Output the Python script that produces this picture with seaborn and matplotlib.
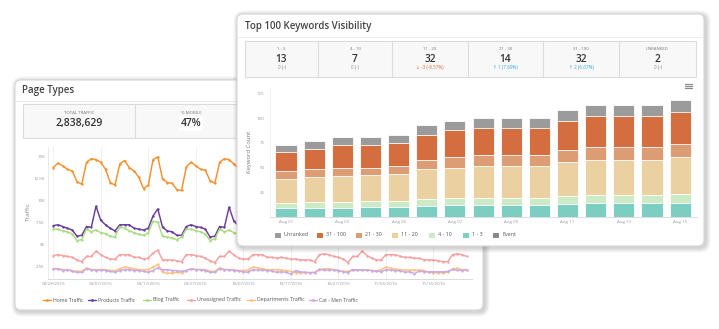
import numpy as np
import pandas as pd
import matplotlib
matplotlib.use("Agg")
import matplotlib.pyplot as plt
import seaborn as sns
from matplotlib.patches import FancyBboxPatch, Rectangle
from matplotlib.lines import Line2D
from matplotlib.transforms import IdentityTransform

# ---------------- data ----------------
date_ticks = ["08/28/2016", "09/07/2016", "09/17/2016", "09/27/2016", "10/07/2016",
              "10/17/2016", "10/27/2016", "11/06/2016", "11/16/2016"]
series_names = ["Home Traffic", "Products Traffic", "Blog Traffic", "Unassigned Traffic",
                "Departments Traffic", "Cat - Men Traffic"]
home = [13.7, 14.2, 13.9, 13.5, 13.3, 12.1, 11.8, 14.3, 14.7, 14.6, 14.3, 13.5, 12.0, 11.7,
        14.1, 14.5, 13.7, 13.3, 12.6, 11.3, 11.7, 14.6, 14.9, 12.4, 12.0, 11.9, 11.2, 11.1,
        13.8, 14.3, 13.9, 13.5, 13.4, 12.2, 11.9, 14.3, 14.7, 14.6, 14.1, 13.6, 12.9]
products = [7.1, 7.2, 7.0, 6.8, 6.6, 5.9, 6.0, 7.0, 6.9, 9.3, 7.7, 7.2, 6.8, 6.5,
            7.2, 7.2, 7.2, 6.8, 6.7, 6.6, 6.8, 8.2, 9.0, 6.9, 6.5, 6.4, 6.0, 6.0,
            7.0, 7.2, 7.0, 6.9, 6.7, 5.8, 5.9, 7.0, 6.9, 9.2, 7.6, 7.1, 6.8]
blog = [6.7, 6.7, 6.5, 6.4, 6.15, 5.4, 5.5, 6.7, 6.4, 6.6, 6.3, 6.2, 5.9, 5.8,
        7.0, 6.8, 6.5, 6.3, 6.1, 6.0, 6.3, 7.6, 7.5, 5.9, 5.8, 5.7, 5.5, 5.8,
        6.7, 6.7, 6.5, 6.4, 6.15, 5.4, 5.6, 6.7, 6.4, 6.6, 6.3, 6.2, 6.0]
unassigned = [3.7, 3.8, 3.7, 3.6, 3.5, 3.2, 3.0, 3.6, 3.6, 4.2, 3.8, 3.5, 3.3, 3.3, 3.8, 3.8,
              3.8, 3.5, 3.5, 3.3, 3.4, 4.0, 4.3, 3.2, 3.2, 3.2, 3.1, 3.0, 3.8, 3.8, 3.7, 3.6,
              3.4, 3.1, 2.9, 3.6, 3.6, 4.2, 3.8,
              3.4, 3.3, 3.3, 3.8, 3.8, 3.8, 3.5, 3.5, 3.4, 3.5, 3.4, 3.3, 3.3, 3.2, 3.2, 3.2,
              3.0, 3.8, 3.9, 3.8, 3.6, 3.5, 3.3, 2.9, 3.6, 3.6, 4.2, 3.7, 3.4, 3.2, 3.2, 3.8,
              3.8, 3.8, 3.6, 3.5, 3.5, 3.4, 3.4, 3.2, 3.2, 3.2, 3.1, 3.0, 3.0, 3.8, 3.9, 3.8, 3.6]
departments = [2.2, 2.2, 2.1, 2.1, 2.0, 1.9, 1.9, 2.3, 2.1, 2.1, 2.1, 2.1, 2.0, 2.0, 2.2, 2.4,
               2.3, 2.2, 2.1, 2.1, 2.1, 2.4, 2.7, 1.8, 1.7, 1.7, 1.8, 1.7, 2.0, 2.2, 2.1, 2.1,
               2.1, 1.9, 1.9, 2.3, 2.1, 2.1, 2.1,
               2.0, 2.0, 2.05, 2.4, 2.3, 2.2, 2.1, 2.1, 2.1, 2.05, 2.0, 1.9, 1.75, 1.75, 1.75,
               1.75, 1.8, 2.1, 2.2, 2.2, 2.1, 2.0, 1.9, 1.9, 2.05, 2.05, 2.1, 2.05, 2.0, 1.95,
               2.1, 2.4, 2.25, 2.15, 2.1, 2.05, 2.05, 2.05, 2.05, 2.0, 1.8, 1.75, 1.75, 1.75,
               1.8, 2.2, 2.25, 2.1, 2.1]
cat_men = [2.2, 2.2, 2.0, 2.1, 1.9, 1.8, 1.8, 2.2, 2.1, 2.0, 2.1, 2.0, 1.9, 1.8, 2.0, 2.1,
           2.1, 2.0, 2.0, 1.9, 1.8, 2.0, 2.3, 2.1, 2.1, 2.0, 2.0, 1.9, 2.0, 2.2, 2.1, 2.1,
           2.0, 1.8, 1.8, 2.2, 2.1, 2.1, 2.0,
           1.95, 1.85, 1.8, 2.1, 2.05, 2.05, 2.0, 1.95, 1.8, 1.85, 1.8, 1.6, 2.0, 1.85, 1.8,
           1.77, 1.77, 2.12, 2.05, 2.05, 2.1, 2.0, 1.85, 1.77, 2.1, 2.05, 2.05, 2.05, 2.0, 1.95,
           1.85, 2.1, 2.05, 2.0, 1.97, 1.8, 1.85, 1.65, 1.95, 1.85, 1.85, 1.85, 1.85, 1.85,
           1.9, 2.12, 2.05, 2.0, 2.1]
line_colors = ["#f7902c", "#6a3d9a", "#a8dc80", "#f6a0a0", "#fdc27e", "#c9a9e6"]

bar_dates = ["Aug 01", "Aug 02", "Aug 03", "Aug 04", "Aug 05", "Aug 06", "Aug 07", "Aug 08",
             "Aug 09", "Aug 10", "Aug 11", "Aug 12", "Aug 13", "Aug 14", "Aug 15"]
r1_3 = [9, 9, 9, 10, 10, 11, 12, 12, 12, 12, 13, 14, 14, 14, 14]
r4_10 = [5, 6, 6, 6, 6, 7, 7, 7, 7, 7, 8, 8, 8, 8, 9]
r11_20 = [24, 25, 26, 26, 27, 30, 31, 33, 33, 33, 35, 36, 36, 36, 38]
r21_30 = [8, 8, 9, 8, 9, 10, 11, 11, 11, 11, 12, 13, 13, 13, 13]
r31_100 = [20, 21, 23, 23, 23, 25, 27, 27, 27, 27, 29, 31, 31, 31, 32]
unranked = [7, 8, 8, 8, 8, 10, 9, 10, 10, 10, 11, 11, 11, 11, 12]
bar_legend = ["Unranked", "31 - 100", "21 - 30", "11 - 20", "4 - 10", "1 - 3", "Event"]
bar_colors = ["#9b9b9b", "#d56e3f", "#dd9d74", "#ebd1a2", "#cdeac6", "#7ccdc2", "#8a8a8a"]

kpi_labels = ["1 - 3", "4 - 10", "11 - 20", "21 - 30", "31 - 100", "UNRANKED"]
kpi_values = ["13", "7", "32", "14", "32", "2"]
kpi_changes = ["0 (-)", "0 (-)", "\u2193 -3 (-8.57%)", "\u2191 1 (7.69%)", "\u2191 2 (6.67%)", "0 (-)"]
kpi_change_colors = ["#888888", "#888888", "#e0673a", "#3aa7d8", "#3aa7d8", "#888888"]

# ---------------- figure ----------------
sns.set_theme(style="white")
plt.rcParams["font.family"] = ["Open Sans", "DejaVu Sans"]

W, H = 719, 329
fig = plt.figure(figsize=(W / 100, H / 100), dpi=100)
fig.patch.set_facecolor("white")


def T(x, y, s, size, color="#333333", ha="center", va="center", weight="normal", z=3, **kw):
    fig.text(x / W, 1 - y / H, s, fontsize=size, color=color, ha=ha, va=va,
             fontweight=weight, zorder=z, **kw)


def hline(x0, x1, y, color, lw, z):
    fig.add_artist(Line2D([x0 / W, x1 / W], [1 - y / H, 1 - y / H], color=color, lw=lw,
                          transform=fig.transFigure, zorder=z))


def vline(x, y0, y1, color, lw, z):
    fig.add_artist(Line2D([x / W, x / W], [1 - y0 / H, 1 - y1 / H], color=color, lw=lw,
                          transform=fig.transFigure, zorder=z))


def card(x0, y0, x1, y1, z):
    for off in [5, 4, 3, 2, 1]:
        sh = FancyBboxPatch((x0 - off + 1.5, H - y1 - off - 1.5), x1 - x0 + 2 * off,
                            y1 - y0 + 2 * off,
                            boxstyle="round,pad=0,rounding_size=%f" % (6 + off),
                            fc="black", ec="none", alpha=0.035,
                            transform=IdentityTransform(), zorder=z - 0.5)
        fig.add_artist(sh)
    p = FancyBboxPatch((x0, H - y1), x1 - x0, y1 - y0,
                       boxstyle="round,pad=0,rounding_size=6",
                       fc="white", ec="#d6d6d6", lw=0.8,
                       transform=IdentityTransform(), zorder=z)
    fig.add_artist(p)


def kpi_box(x0, y0, x1, y1, dividers, z):
    r = Rectangle((x0 / W, 1 - y1 / H), (x1 - x0) / W, (y1 - y0) / H,
                  transform=fig.transFigure, fc="#f8f8f8", ec="#dcdcdc", lw=0.8, zorder=z)
    fig.add_artist(r)
    for d in dividers:
        vline(d, y0, y1, "#dcdcdc", 0.8, z + 0.1)


# ---------- back card : Page Types ----------
card(15, 80, 483, 310, 1)
T(22, 90, "Page Types", 7, "#444444", ha="left", weight="semibold", z=1.5)
hline(16, 482, 101, "#ececec", 0.7, 1.2)
kpi_box(23, 104, 475, 138, [135, 248, 361], 1.2)
T(79, 113, "TOTAL TRAFFIC", 3.2, "#777777", z=1.5)
T(79, 123.5, "2,838,629", 7.5, "#333333", weight="semibold", z=1.5)
T(191, 113, "% MOBILE", 3.2, "#777777", z=1.5)
T(191, 123.5, "47%", 7.5, "#333333", weight="semibold", z=1.5,
  bbox=dict(fc="white", ec="none", pad=1.2))

ax1 = fig.add_axes([48 / W, 1 - 279.3 / H, (472 - 48) / W, (279.3 - 147.3) / H])
ax1.set_zorder(1.4)
ax1.set_facecolor("none")
all_series = [home, products, blog, unassigned, departments, cat_men]
for name, vals, c in zip(series_names, all_series, line_colors):
    days = np.arange(len(vals))
    sns.lineplot(x=days, y=vals, color=c, marker="o", markersize=1.7, markeredgewidth=0,
                 linewidth=1.05, ax=ax1, legend=False, errorbar=None)
ax1.set_xlim(-1.1, 88.1)
ax1.set_ylim(1.0, 16.0)
ax1.set_xticks(np.arange(0, 90, 10))
ax1.set_xticklabels(date_ticks)
ax1.set_yticks([2.5, 5, 7.5, 10, 12.5, 15])
ax1.set_yticklabels(["2.5K", "5K", "7.5K", "10K", "12.5K", "15K"])
ax1.tick_params(axis="both", length=0, labelsize=3.2, labelcolor="#9a9a9a", pad=2.2)
ax1.grid(axis="x", color="#eeeeee", lw=0.6)
ax1.set_xlabel("")
ax1.set_ylabel("")
for s in ["top", "right"]:
    ax1.spines[s].set_visible(False)
ax1.spines["left"].set_color("#e6e6e6")
ax1.spines["left"].set_linewidth(0.6)
ax1.spines["bottom"].set_color("#d4d4d4")
ax1.spines["bottom"].set_linewidth(0.6)
T(28, 212, "Traffic", 4.6, "#888888", rotation=90, z=1.5)

leg_x = [43, 88, 143, 187, 247, 309]
for name, c, lx in zip(series_names, line_colors, leg_x):
    fig.add_artist(Line2D([lx / W, (lx + 8) / W], [1 - 300 / H, 1 - 300 / H], color=c, lw=1.0,
                          transform=fig.transFigure, zorder=1.5))
    fig.add_artist(Line2D([(lx + 4) / W], [1 - 300 / H], color=c, marker="o", markersize=2,
                          markeredgewidth=0, transform=fig.transFigure, zorder=1.5))
    T(lx + 10, 300, name, 3.7, "#555555", ha="left", z=1.5)

# ---------- front card : Top 100 Keywords Visibility ----------
card(237, 14, 704, 246, 10)
T(245, 26, "Top 100 Keywords Visibility", 7, "#444444", ha="left", weight="semibold", z=11)
hline(238, 703, 37, "#ececec", 0.7, 10.2)
divs = [318, 392, 468, 543, 619]
kpi_box(245, 41, 696, 77, divs, 10.2)
edges = [245] + divs + [696]
for i in range(6):
    cx = (edges[i] + edges[i + 1]) / 2
    T(cx, 49, kpi_labels[i], 3.1, "#777777", z=11)
    T(cx, 59, kpi_values[i], 7.2, "#333333", weight="semibold", z=11)
    T(cx, 67.5, kpi_changes[i], 3.3, kpi_change_colors[i], z=11)

# hamburger icon
for yy in [84, 86, 88]:
    hline(685, 692, yy, "#8a8a8a", 0.9, 11)

ax2 = fig.add_axes([270 / W, 1 - 217 / H, (697 - 270) / W, (217 - 88.3) / H])
ax2.set_zorder(11)
ax2.set_facecolor("none")
parts = [r1_3, r4_10, r11_20, r21_30, r31_100, unranked]
part_colors = [bar_colors[5], bar_colors[4], bar_colors[3], bar_colors[2], bar_colors[1], bar_colors[0]]
cums = np.cumsum(np.array(parts), axis=0)
for k in range(len(parts) - 1, -1, -1):
    df = pd.DataFrame({"date": bar_dates, "value": cums[k]})
    sns.barplot(data=df, x="date", y="value", color=part_colors[k], saturation=1,
                width=0.75, edgecolor="white", linewidth=0.6, errorbar=None, ax=ax2)
ax2.set_xlim(-0.57, 14.6)
ax2.set_ylim(0, 130)
ax2.set_xticks(range(0, 15, 2))
ax2.set_xticklabels([bar_dates[i] for i in range(0, 15, 2)])
ax2.set_yticks([25, 50, 75, 100, 125])
ax2.tick_params(axis="x", length=0, labelsize=3.2, labelcolor="#9a9a9a", pad=2.5)
ax2.tick_params(axis="y", length=0, labelsize=3.2, labelcolor="#9a9a9a", pad=4)
ax2.set_xlabel("")
ax2.set_ylabel("")
for s in ["top", "right"]:
    ax2.spines[s].set_visible(False)
ax2.spines["left"].set_color("#ececec")
ax2.spines["left"].set_linewidth(0.6)
ax2.spines["bottom"].set_color("#d8d8d8")
ax2.spines["bottom"].set_linewidth(0.6)
T(250, 152, "Keyword Count", 4.2, "#777777", rotation=90, z=11)

leg_left = [275, 316.7, 355.7, 392.3, 429.3, 462.7, 493.3]
for name, c, lx in zip(bar_legend, bar_colors, leg_left):
    fig.add_artist(Rectangle((lx / W, 1 - 237.5 / H), 6 / W, 5 / H, fc=c, ec="none",
                             transform=fig.transFigure, zorder=11))
    T(lx + 9, 235, name, 3.9, "#555555", ha="left", z=11)

fig.savefig("out.png", dpi=100, facecolor="white")
